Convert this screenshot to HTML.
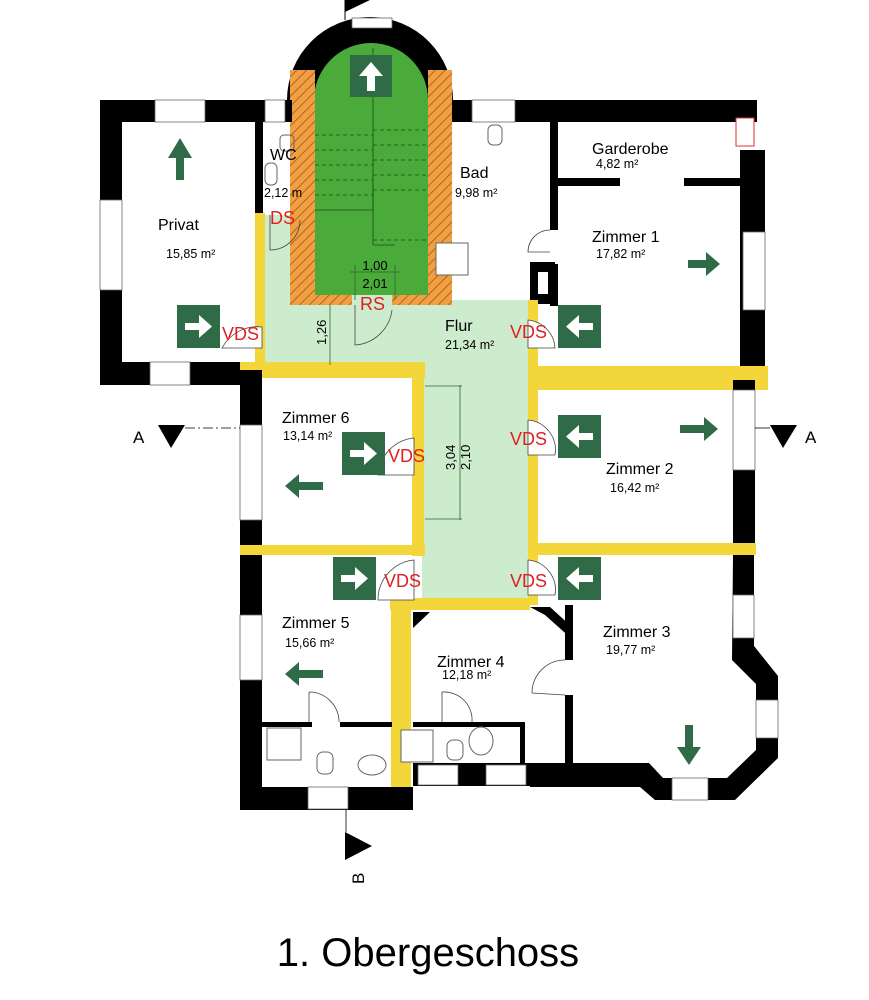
<!DOCTYPE html>
<html><head><meta charset="utf-8"><style>
html,body{margin:0;padding:0;background:#fff;}
svg{display:block;font-family:"Liberation Sans",Arial,sans-serif;}
</style></head><body>
<svg width="869" height="1000" viewBox="0 0 869 1000" xmlns="http://www.w3.org/2000/svg">
<defs>
<pattern id="hatch" width="7" height="7" patternUnits="userSpaceOnUse" patternTransform="rotate(45)">
<rect width="7" height="7" fill="#f0a040"/><line x1="0" y1="0" x2="0" y2="7" stroke="#a0501a" stroke-width="1.5"/>
</pattern>
<g id="exR"><rect width="43" height="43" fill="#2e6b46"/><path d="M8 18h14v-8l13 11.5-13 11.5v-8H8z" fill="#fff"/></g>
<g id="exL"><rect width="43" height="43" fill="#2e6b46"/><path d="M35 18H21v-8L8 21.5l13 11.5v-8h14z" fill="#fff"/></g>
</defs>

<!-- floors -->
<rect x="262" y="300" width="266" height="66" fill="#cdeccd"/>
<rect x="422" y="366" width="106" height="236" fill="#cdeccd"/>
<rect x="262" y="215" width="53" height="90" fill="#cdeccd"/>

<!-- tower -->
<path d="M287 100 A83 83 0 0 1 453 100 Z" fill="#000"/>
<path d="M314 100 A57 57 0 0 1 428 100 L428 300 L314 300 Z" fill="#4aaa3a"/>
<rect x="290" y="70" width="25" height="235" fill="url(#hatch)"/>
<rect x="428" y="70" width="24" height="235" fill="url(#hatch)"/>
<rect x="290" y="295" width="162" height="10" fill="url(#hatch)"/>
<rect x="352" y="295" width="40" height="10" fill="#cdeccd"/>
<rect x="352" y="18" width="40" height="10" fill="#fff" stroke="#666" stroke-width="0.8"/>
<g stroke="#1a4d1a" stroke-width="0.8" fill="none">
<line x1="373" y1="48" x2="373" y2="210"/>
<line x1="373" y1="210" x2="315" y2="210"/>
<path d="M315 135h58M315 150h58M315 165h58M315 180h58M315 195h58M373 130h55M373 145h55M373 160h55M373 175h55M373 190h55M373 240h55" stroke-dasharray="4,3"/>
<line x1="373" y1="185" x2="373" y2="245"/>
<line x1="373" y1="245" x2="395" y2="245"/>
</g>
<g transform="translate(350,55)"><rect width="42" height="42" fill="#2e6b46"/><path d="M17 36V21h-8l12-14 12 14h-8v15z" fill="#fff"/></g>

<!-- top wall -->
<rect x="100" y="100" width="192" height="22" fill="#000"/>
<rect x="452" y="100" width="305" height="22" fill="#000"/>
<rect x="155" y="100" width="50" height="22" fill="#fff" stroke="#666" stroke-width="0.8"/>
<rect x="265" y="100" width="20" height="22" fill="#fff" stroke="#666" stroke-width="0.8"/>
<rect x="472" y="100" width="43" height="22" fill="#fff" stroke="#666" stroke-width="0.8"/>
<rect x="736" y="118" width="18" height="28" fill="#fff" stroke="#e03030" stroke-width="1"/>
<!-- Privat -->
<rect x="100" y="100" width="22" height="285" fill="#000"/>
<rect x="100" y="200" width="22" height="90" fill="#fff" stroke="#666" stroke-width="0.8"/>
<rect x="100" y="362" width="140" height="23" fill="#000"/>
<rect x="150" y="362" width="40" height="23" fill="#fff" stroke="#666" stroke-width="0.8"/>
<rect x="255" y="122" width="8" height="93" fill="#000"/>
<rect x="255" y="213" width="10" height="160" fill="#f2d63a"/>
<rect x="240" y="362" width="185" height="16" fill="#f2d63a"/>
<!-- WC fixtures -->
<rect x="280" y="135" width="14" height="16" fill="none" stroke="#666" rx="4"/>
<rect x="265" y="163" width="12" height="22" fill="none" stroke="#666" rx="5"/>
<path d="M270 215 v35 A30 30 0 0 0 300 220" fill="none" stroke="#444" stroke-width="0.8"/>
<!-- Bad -->
<rect x="550" y="122" width="8" height="108" fill="#000"/>
<rect x="550" y="264" width="8" height="42" fill="#000"/>
<rect x="530" y="262" width="25" height="42" fill="#000"/>
<rect x="538" y="272" width="10" height="22" fill="#fff"/>
<rect x="488" y="125" width="14" height="20" fill="none" stroke="#666" rx="5"/>
<rect x="436" y="243" width="32" height="32" fill="#fff" stroke="#666"/>
<path d="M550 230 A22 22 0 0 0 528 252 L550 252" fill="none" stroke="#444" stroke-width="0.8"/>
<!-- Garderobe / Zimmer 1 -->
<rect x="558" y="178" width="62" height="8" fill="#000"/>
<rect x="684" y="178" width="60" height="8" fill="#000"/>
<rect x="740" y="150" width="25" height="220" fill="#000"/>
<rect x="743" y="232" width="22" height="78" fill="#fff" stroke="#666" stroke-width="0.8"/>
<rect x="528" y="300" width="10" height="70" fill="#f2d63a"/>
<rect x="528" y="366" width="240" height="24" fill="#f2d63a"/>
<rect x="255" y="300" width="10" height="65" fill="#f2d63a"/>
<!-- middle left -->
<rect x="240" y="370" width="22" height="440" fill="#000"/>
<rect x="240" y="425" width="22" height="95" fill="#fff" stroke="#666" stroke-width="0.8"/>
<rect x="240" y="615" width="22" height="65" fill="#fff" stroke="#666" stroke-width="0.8"/>
<rect x="412" y="366" width="12" height="190" fill="#f2d63a"/>
<rect x="240" y="545" width="185" height="10" fill="#f2d63a"/>
<!-- right middle -->
<rect x="528" y="380" width="10" height="225" fill="#f2d63a"/>
<rect x="733" y="380" width="22" height="170" fill="#000"/>
<rect x="733" y="390" width="22" height="80" fill="#fff" stroke="#666" stroke-width="0.8"/>
<rect x="528" y="543" width="228" height="12" fill="#f2d63a"/>
<!-- Zimmer 3 walls -->
<path d="M733 555H754V646L778 676V758L735 800H655L640 787H530V763H649L663 778H727L756 750V684L732 660Z" fill="#000"/>
<rect x="733" y="595" width="21" height="43" fill="#fff" stroke="#666" stroke-width="0.8"/>
<rect x="756" y="700" width="22" height="38" fill="#fff" stroke="#666" stroke-width="0.8"/>
<rect x="672" y="778" width="36" height="22" fill="#fff" stroke="#666" stroke-width="0.8"/>
<rect x="565" y="605" width="8" height="55" fill="#000"/>
<rect x="565" y="695" width="8" height="70" fill="#000"/>
<path d="M530 607L550 607 573 628 573 640 545 615Z" fill="#000"/>
<path d="M565 660 A33 33 0 0 0 532 693 L565 695" fill="none" stroke="#444" stroke-width="0.8"/>
<!-- Zimmer 4 -->
<rect x="390" y="598" width="140" height="12" fill="#f2d63a"/>
<rect x="391" y="598" width="20" height="212" fill="#f2d63a"/>
<path d="M413 612L430 612 413 628Z" fill="#000"/>
<rect x="413" y="763" width="140" height="23" fill="#000"/>
<rect x="418" y="765" width="40" height="20" fill="#fff" stroke="#666" stroke-width="0.8"/>
<rect x="486" y="765" width="40" height="20" fill="#fff" stroke="#666" stroke-width="0.8"/>
<rect x="413" y="722" width="98" height="5" fill="#000"/>
<rect x="490" y="722" width="35" height="5" fill="#000"/>
<rect x="520" y="722" width="5" height="42" fill="#000"/>
<rect x="401" y="730" width="32" height="32" fill="#fff" stroke="#666"/>
<rect x="447" y="740" width="16" height="20" fill="none" stroke="#666" rx="6"/>
<ellipse cx="481" cy="741" rx="12" ry="14" fill="none" stroke="#666"/>
<path d="M442 692 A28 28 0 0 1 472 722 M442 692 v30" fill="none" stroke="#444" stroke-width="0.8"/>
<!-- Zimmer 5 -->
<rect x="240" y="787" width="173" height="23" fill="#000"/>
<rect x="308" y="787" width="40" height="22" fill="#fff" stroke="#666" stroke-width="0.8"/>
<rect x="262" y="722" width="50" height="5" fill="#000"/>
<rect x="340" y="722" width="52" height="5" fill="#000"/>
<rect x="267" y="728" width="34" height="32" fill="#fff" stroke="#666"/>
<rect x="317" y="752" width="16" height="22" fill="none" stroke="#666" rx="6"/>
<ellipse cx="372" cy="765" rx="14" ry="10" fill="none" stroke="#666"/>
<path d="M309 692 A30 30 0 0 1 339 722 M309 692 v30" fill="none" stroke="#444" stroke-width="0.8"/>
<!-- door swings -->
<g fill="#fff" stroke="#444" stroke-width="0.8">
<path d="M262 327 A40 40 0 0 0 222 348 L262 348Z"/>
<path d="M528 320 A30 30 0 0 1 555 348 L528 348Z"/>
<path d="M414 438 A40 40 0 0 0 378 475 L414 475Z"/>
<path d="M528 420 A30 30 0 0 1 555 455 L528 455Z"/>
<path d="M414 560 A40 40 0 0 0 378 600 L414 600Z"/>
<path d="M528 560 A30 30 0 0 1 555 595 L528 595Z"/>
</g>
<path d="M355 305 v40 A40 40 0 0 0 392 310" fill="none" stroke="#444" stroke-width="0.8"/>
<!-- dimensions -->
<g stroke="#2a6a2a" stroke-width="0.8" fill="none">
<line x1="350" y1="272" x2="400" y2="272"/><line x1="355" y1="265" x2="355" y2="300"/><line x1="395" y1="265" x2="395" y2="300"/>
<line x1="330" y1="305" x2="330" y2="365"/>
<line x1="460" y1="385" x2="460" y2="520"/><line x1="425" y1="386" x2="462" y2="386"/><line x1="425" y1="519" x2="462" y2="519"/>
</g>
<g font-size="13" fill="#000">
<text x="375" y="270" text-anchor="middle">1,00</text>
<text x="375" y="288" text-anchor="middle">2,01</text>
<text transform="translate(326,345) rotate(-90)">1,26</text>
<text transform="translate(455,470) rotate(-90)">3,04</text>
<text transform="translate(470,470) rotate(-90)">2,10</text>
</g>
<!-- exit signs -->
<use href="#exR" x="177" y="305"/>
<use href="#exL" x="558" y="305"/>
<use href="#exR" x="342" y="432"/>
<use href="#exL" x="558" y="415"/>
<use href="#exR" x="333" y="557"/>
<use href="#exL" x="558" y="557"/>
<!-- green arrows -->
<g fill="#2e6b46">
<path d="M176 180V158h-8l12-20 12 20h-8v22z"/>
<path d="M688 260h18v-8l14 12-14 12v-8h-18z"/>
<path d="M680 425h24v-8l14 12-14 12v-8h-24z"/>
<path d="M323 482h-24v-8l-14 12 14 12v-8h24z"/>
<path d="M323 670h-24v-8l-14 12 14 12v-8h24z"/>
<path d="M685 725v22h-8l12 18 12-18h-8v-22z"/>
</g>
<!-- labels -->
<g font-size="16" fill="#000">
<text x="158" y="230">Privat</text>
<text x="270" y="160">WC</text>
<text x="460" y="178">Bad</text>
<text x="592" y="154">Garderobe</text>
<text x="592" y="242">Zimmer 1</text>
<text x="445" y="331">Flur</text>
<text x="282" y="423">Zimmer 6</text>
<text x="606" y="474">Zimmer 2</text>
<text x="282" y="628">Zimmer 5</text>
<text x="603" y="637">Zimmer 3</text>
<text x="437" y="667">Zimmer 4</text>
</g>
<g font-size="12.5" fill="#000">
<text x="166" y="258">15,85 m²</text>
<text x="264" y="197">2,12 m</text>
<text x="455" y="197">9,98 m²</text>
<text x="596" y="168">4,82 m²</text>
<text x="596" y="258">17,82 m²</text>
<text x="445" y="349">21,34 m²</text>
<text x="283" y="440">13,14 m²</text>
<text x="610" y="492">16,42 m²</text>
<text x="285" y="647">15,66 m²</text>
<text x="606" y="654">19,77 m²</text>
<text x="442" y="679">12,18 m²</text>
</g>
<g font-size="18" fill="#e02020">
<text x="270" y="224">DS</text>
<text x="360" y="310">RS</text>
<text x="222" y="340">VDS</text>
<text x="510" y="338">VDS</text>
<text x="388" y="462">VDS</text>
<text x="510" y="445">VDS</text>
<text x="384" y="587">VDS</text>
<text x="510" y="587">VDS</text>
</g>
<!-- section markers -->
<line x1="185" y1="428" x2="240" y2="428" stroke="#000" stroke-width="0.8" stroke-dasharray="10,3,2,3"/>
<line x1="755" y1="428" x2="770" y2="428" stroke="#000" stroke-width="0.8"/>
<path d="M158 425H185L171 448Z" fill="#000"/>
<path d="M770 425H797L783 448Z" fill="#000"/>
<text x="133" y="443" font-size="17">A</text>
<text x="805" y="443" font-size="17">A</text>
<line x1="346" y1="810" x2="346" y2="832" stroke="#000" stroke-width="0.8"/>
<path d="M345 832V860L372 846Z" fill="#000"/>
<text transform="translate(364,884) rotate(-90)" font-size="17">B</text>
<path d="M345 0V12L370 0Z" fill="#000"/>
<line x1="345" y1="0" x2="345" y2="20" stroke="#000"/>
<text x="428" y="966" font-size="40" text-anchor="middle">1. Obergeschoss</text>
</svg>
</body></html>
